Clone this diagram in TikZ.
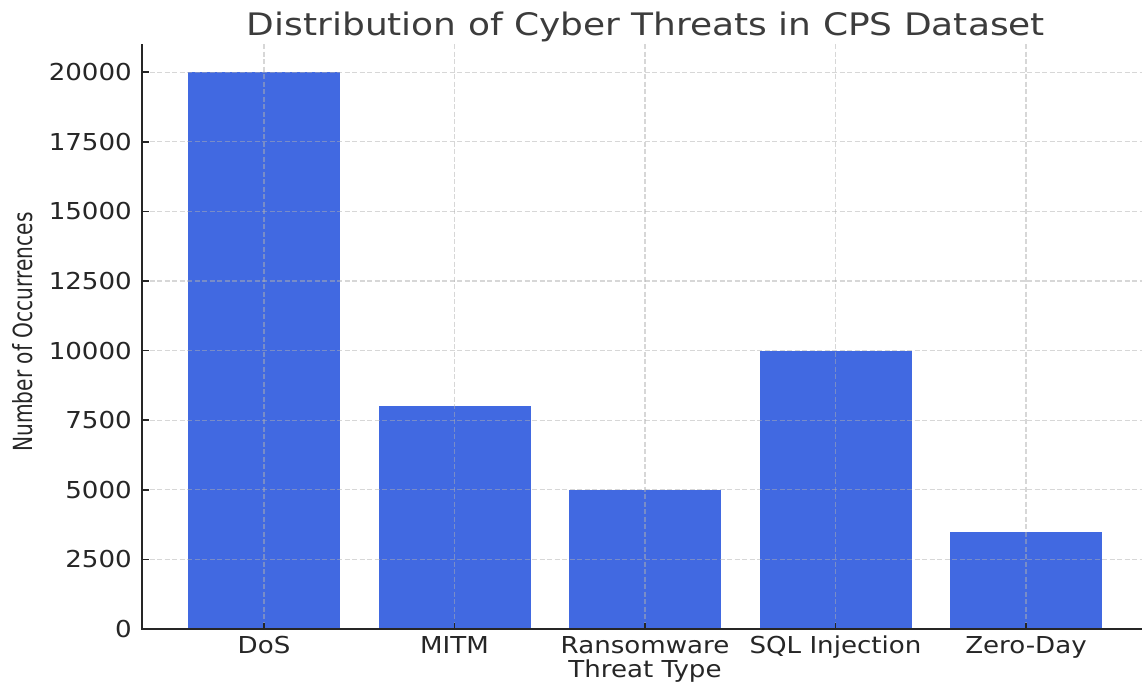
\documentclass[tikz,border=0pt]{standalone}
\usepackage{fontspec}
\setmainfont{DejaVu Sans}
\usepackage{graphicx}
\definecolor{barc}{HTML}{4169E1}
\definecolor{ink}{HTML}{262626}
\definecolor{gridc}{HTML}{B0B0B0}
\newcommand{\hs}[1]{\scalebox{1.12}[1]{#1}}
\begin{document}
\begin{tikzpicture}[x=1pt,y=-1pt,
  barstyle/.style={fill=barc},
  gridline/.style={draw=gridc,opacity=0.5,line width=1.1pt,dash pattern=on 5pt off 2.5pt},
  spine/.style={draw=ink,line width=1.7pt},
  tickmark/.style={draw=ink,line width=1.5pt},
  ticklabel/.style={text=ink,inner sep=0pt,font=\fontsize{23.3}{28}\selectfont},
]
\useasboundingbox (0,0) rectangle (1142,683);
\fill[white] (0,0) rectangle (1142,683);
% bars
\fill[barstyle] (188,629) rectangle (340,72.2);
\fill[barstyle] (378.5,629) rectangle (530.5,406.3);
\fill[barstyle] (569,629) rectangle (721,489.8);
\fill[barstyle] (759.5,629) rectangle (911.5,350.6);
\fill[barstyle] (950,629) rectangle (1102,531.6);
% grid
\foreach \k in {1,...,8} {
  \draw[gridline] (142,629-\k*69.6) -- (1142,629-\k*69.6);
}
\foreach \c in {264,454.5,645,835.5,1026} {
  \draw[gridline] (\c,44) -- (\c,629);
}
% spines
\draw[spine] (142,44) -- (142,629) -- (1142,629);
% y ticks and labels
\foreach \k/\lab in {0/0,1/2500,2/5000,3/7500,4/10000,5/12500,6/15000,7/17500,8/20000} {
  \draw[tickmark] (142,629-\k*69.6) -- (148.5,629-\k*69.6);
  \node[ticklabel,anchor=base east] (yl\k) at (132,629-\k*69.6+8.5) {\hs{\lab}};
}
% x ticks and labels
\foreach \c/\lab/\n in {264/DoS/a,454.5/MITM/b,645/Ransomware/c,835.5/SQL Injection/d,1026/Zero-Day/e} {
  \draw[tickmark] (\c,629) -- (\c,622.5);
  \node[ticklabel,anchor=base] (xl\n) at (\c,653) {\hs{\lab}};
}
% axis labels
\node[ticklabel,anchor=base] (xlabel) at (645,677) {\hs{Threat Type}};
\node[text=ink,inner sep=0pt,rotate=90,anchor=center] (ylabel) at (23,332)
  {\resizebox{239pt}{20pt}{\fontsize{20}{24}\selectfont Number of Occurrences}};
% title
\node[text=ink!90!white,inner sep=0pt,anchor=base] (title) at (646,35)
  {\resizebox{798pt}{\height}{\fontsize{31}{36}\selectfont Distribution of Cyber Threats in CPS Dataset}};
\end{tikzpicture}
\end{document}
